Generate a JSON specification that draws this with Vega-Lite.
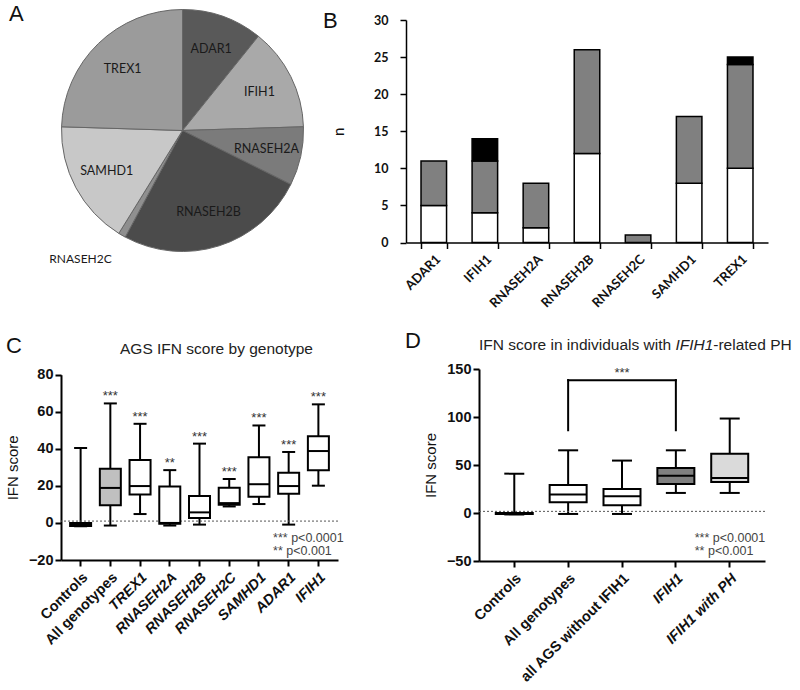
{
  "$schema": "https://vega.github.io/schema/vega-lite/v6.json",
  "background": "white",
  "padding": {"left": 5, "top": 2, "right": 5, "bottom": 5},
  "config": {
    "view": {"stroke": null},
    "axis": {"grid": false, "labelOverlap": false},
    "title": {"font": "Liberation Sans", "fontSize": 22, "fontWeight": "normal", "color": "#111", "anchor": "start", "frame": "group"}
  },
  "spacing": 19,
  "vconcat": [
    {
      "spacing": 17,
      "hconcat": [
        {
          "width": 243,
          "height": 221,
          "title": {"text": "A", "dx": -52, "dy": 22},
          "data": {"values": [
            {"gene": "ADAR1", "n": 11},
            {"gene": "IFIH1", "n": 14},
            {"gene": "RNASEH2A", "n": 8},
            {"gene": "RNASEH2B", "n": 26},
            {"gene": "RNASEH2C", "n": 1},
            {"gene": "SAMHD1", "n": 17},
            {"gene": "TREX1", "n": 25}
          ]},
          "layer": [
            {
              "mark": {"type": "arc", "radius": 121, "stroke": "#666666", "strokeWidth": 1},
              "encoding": {
                "theta": {"field": "n", "type": "quantitative", "stack": true},
                "color": {"field": "gene", "type": "nominal", "legend": null,
                  "scale": {"domain": ["ADAR1", "IFIH1", "RNASEH2A", "RNASEH2B", "RNASEH2C", "SAMHD1", "TREX1"],
                            "range": ["#595959", "#a9a9a9", "#7b7b7b", "#4b4b4b", "#8f8f8f", "#c8c8c8", "#9b9b9b"]}}
              }
            },
            {
              "mark": {"type": "text", "radius": 86, "font": "Lato", "fontSize": 12.5, "color": "#1a1a1a"},
              "encoding": {
                "theta": {"field": "n", "type": "quantitative", "stack": true},
                "text": {"condition": {"test": "datum.gene !== 'RNASEH2C'", "field": "gene", "type": "nominal"}, "value": ""}
              }
            },
            {
              "mark": {"type": "text", "radius": 86, "dx": -59, "dy": 54, "font": "Lato", "fontSize": 12, "color": "#1a1a1a"},
              "encoding": {
                "theta": {"field": "n", "type": "quantitative", "stack": true},
                "text": {"condition": {"test": "datum.gene === 'RNASEH2C'", "field": "gene", "type": "nominal"}, "value": ""}
              }
            }
          ]
        },
        {
          "width": 362,
          "height": 222.5,
          "title": {"text": "B", "dx": -83, "dy": 23},
          "data": {"values": [
            {"gene": "ADAR1", "tier": "1", "n": 5},
            {"gene": "ADAR1", "tier": "2", "n": 6},
            {"gene": "IFIH1", "tier": "1", "n": 4},
            {"gene": "IFIH1", "tier": "2", "n": 7},
            {"gene": "IFIH1", "tier": "3", "n": 3},
            {"gene": "RNASEH2A", "tier": "1", "n": 2},
            {"gene": "RNASEH2A", "tier": "2", "n": 6},
            {"gene": "RNASEH2B", "tier": "1", "n": 12},
            {"gene": "RNASEH2B", "tier": "2", "n": 14},
            {"gene": "RNASEH2C", "tier": "2", "n": 1},
            {"gene": "SAMHD1", "tier": "1", "n": 8},
            {"gene": "SAMHD1", "tier": "2", "n": 9},
            {"gene": "TREX1", "tier": "1", "n": 10},
            {"gene": "TREX1", "tier": "2", "n": 14},
            {"gene": "TREX1", "tier": "3", "n": 1}
          ]},
          "mark": {"type": "bar", "stroke": "black", "strokeWidth": 1.5},
          "encoding": {
            "x": {"field": "gene", "type": "nominal", "sort": null,
              "scale": {"paddingInner": 0.5, "paddingOuter": 0.294},
              "axis": {"title": null, "labelAngle": -45, "labelFont": "Lato", "labelFontSize": 13, "labelFontWeight": "bold", "labelColor": "#111",
                       "labelPadding": 4, "tickBand": "extent", "tickSize": 6, "tickWidth": 1.5, "tickColor": "black", "domainColor": "black", "domainWidth": 1.5}},
            "y": {"field": "n", "type": "quantitative", "stack": "zero",
              "scale": {"domain": [0, 30], "nice": false},
              "axis": {"title": "n", "values": [0, 5, 10, 15, 20, 25, 30], "tickCount": 7, "titleFont": "Lato", "titleFontSize": 15, "titleFontWeight": "normal", "titleColor": "#111", "titlePadding": 27,
                       "labelFont": "Lato", "labelFontSize": 12.5, "labelFontWeight": "bold", "labelColor": "#111", "labelPadding": 12,
                       "tickSize": 6, "tickWidth": 1.5, "tickColor": "black", "domainColor": "black", "domainWidth": 1.5}},
            "fill": {"field": "tier", "type": "nominal", "legend": null,
              "scale": {"domain": ["1", "2", "3"], "range": ["#ffffff", "#808080", "#000000"]}},
            "order": {"field": "tier", "type": "ordinal", "sort": "ascending"}
          }
        }
      ]
    },
    {
      "spacing": 61,
      "hconcat": [
        {
          "width": 277,
          "height": 191,
          "title": {"text": "C", "dx": -55, "dy": 20},
          "data": {"values": [
            {"group": "Controls", "min": -1.8, "q1": -1.6, "median": -0.8, "q3": 0, "max": 40.4, "sig": ""},
            {"group": "All genotypes", "min": -1.4, "q1": 9.6, "median": 18.9, "q3": 29.2, "max": 64.5, "sig": "***"},
            {"group": "TREX1", "min": 4.8, "q1": 15.3, "median": 19.9, "q3": 33.9, "max": 53.5, "sig": "***"},
            {"group": "RNASEH2A", "min": -1.4, "q1": -0.4, "median": 0, "q3": 19.6, "max": 28.5, "sig": "**"},
            {"group": "RNASEH2B", "min": -0.9, "q1": 2.7, "median": 5.7, "q3": 14.6, "max": 42.8, "sig": "***"},
            {"group": "RNASEH2C", "min": 8.9, "q1": 9.8, "median": 10.7, "q3": 19, "max": 23.7, "sig": "***"},
            {"group": "SAMHD1", "min": 10.2, "q1": 14.2, "median": 20.9, "q3": 35.5, "max": 52.6, "sig": "***"},
            {"group": "ADAR1", "min": -0.9, "q1": 15.7, "median": 19.9, "q3": 27.1, "max": 38.3, "sig": "***"},
            {"group": "IFIH1", "min": 20.1, "q1": 28.5, "median": 38.8, "q3": 46.8, "max": 64, "sig": "***"}
          ]},
          "layer": [
            {
              "mark": {"type": "rule", "stroke": "black", "strokeWidth": 2},
              "encoding": {
                "x": {"field": "group", "type": "nominal", "sort": null, "title": null,
                  "scale": {"domain": ["Controls", "All genotypes", "TREX1", "RNASEH2A", "RNASEH2B", "RNASEH2C", "SAMHD1", "ADAR1", "IFIH1"], "paddingInner": 0, "paddingOuter": 0.16},
                  "axis": {"labelAngle": -45, "labelFont": "Liberation Sans", "labelFontSize": 14.5, "labelFontWeight": "bold", "labelColor": "#111", "labelPadding": 4,
                           "labelFontStyle": {"condition": {"test": "datum.value !== 'Controls' && datum.value !== 'All genotypes'", "value": "italic"}, "value": "normal"},
                           "tickSize": 6, "tickWidth": 2, "tickColor": "black", "domainColor": "black", "domainWidth": 2}},
                "y": {"field": "min", "type": "quantitative", "title": "IFN score",
                  "scale": {"domain": [-20, 80], "range": [191, 5.7], "nice": false, "zero": false},
                  "axis": {"values": [-20, 0, 20, 40, 60, 80], "tickCount": 6, "labelOverlap": false, "labelFont": "Liberation Sans", "labelFontSize": 14.5, "labelFontWeight": "bold", "labelColor": "#111", "labelPadding": 2,
                           "titleFont": "Liberation Sans", "titleFontSize": 15, "titleFontWeight": "normal", "titleColor": "#111", "titlePadding": 8,
                           "tickSize": 6, "tickWidth": 2, "tickColor": "black", "domainColor": "black", "domainWidth": 2}},
                "y2": {"field": "max"}
              }
            },
            {
              "data": {"values": [{}]},
              "mark": {"type": "rule", "stroke": "#555555", "strokeWidth": 1, "strokeDash": [2, 2]},
              "encoding": {"y": {"datum": 1, "type": "quantitative", "title": "IFN score"}}
            },
            {
              "mark": {"type": "bar", "width": 21, "stroke": "black", "strokeWidth": 2},
              "encoding": {
                "x": {"field": "group", "type": "nominal", "sort": null, "title": null},
                "y": {"field": "q1", "type": "quantitative", "title": "IFN score"},
                "y2": {"field": "q3"},
                "fill": {"condition": {"test": "datum.group === 'All genotypes'", "value": "#c0c0c0"}, "value": "#ffffff"}
              }
            },
            {
              "mark": {"type": "tick", "size": 21, "thickness": 2, "color": "black", "opacity": 1},
              "encoding": {
                "x": {"field": "group", "type": "nominal", "sort": null, "title": null},
                "y": {"field": "median", "type": "quantitative", "title": "IFN score"}
              }
            },
            {
              "mark": {"type": "tick", "size": 13, "thickness": 2, "color": "black", "opacity": 1},
              "encoding": {
                "x": {"field": "group", "type": "nominal", "sort": null, "title": null},
                "y": {"field": "min", "type": "quantitative", "title": "IFN score"}
              }
            },
            {
              "mark": {"type": "tick", "size": 13, "thickness": 2, "color": "black", "opacity": 1},
              "encoding": {
                "x": {"field": "group", "type": "nominal", "sort": null, "title": null},
                "y": {"field": "max", "type": "quantitative", "title": "IFN score"}
              }
            },
            {
              "mark": {"type": "text", "font": "Liberation Sans", "fontSize": 13, "color": "#333", "baseline": "alphabetic", "dy": -3},
              "encoding": {
                "x": {"field": "group", "type": "nominal", "sort": null, "title": null},
                "y": {"field": "max", "type": "quantitative", "title": "IFN score"},
                "text": {"field": "sig"}
              }
            },
            {
              "data": {"values": [{}]},
              "mark": {"type": "text", "font": "Liberation Sans", "fontSize": 15.5, "color": "#222", "baseline": "alphabetic", "align": "center", "dx": 17},
              "encoding": {
                "x": {"datum": "RNASEH2B", "type": "nominal", "bandPosition": 0.5},
                "y": {"datum": 91, "type": "quantitative"},
                "text": {"value": "AGS IFN score by genotype"}
              }
            },
            {
              "data": {"values": [{}]},
              "mark": {"type": "text", "font": "Liberation Sans", "fontSize": 12.5, "color": "#444", "baseline": "alphabetic", "align": "left", "dx": -15.6, "lineHeight": 13},
              "encoding": {
                "x": {"datum": "ADAR1", "type": "nominal", "bandPosition": 0.5},
                "y": {"datum": -10.1, "type": "quantitative"},
                "text": {"value": ["*** p<0.0001", "**   p<0.001"]}
              }
            }
          ]
        },
        {
          "width": 286,
          "height": 192,
          "title": {"text": "D", "dx": -74, "dy": 19},
          "data": {"values": [
            {"group": "Controls", "min": -1.5, "q1": -1, "median": -0.5, "q3": 0, "max": 41},
            {"group": "All genotypes", "min": -1, "q1": 11.1, "median": 19.4, "q3": 29.2, "max": 65.3},
            {"group": "all AGS without IFIH1", "min": -1, "q1": 8, "median": 17.4, "q3": 25, "max": 54.6},
            {"group": "IFIH1", "min": 20.9, "q1": 30.3, "median": 38.9, "q3": 47, "max": 65.3},
            {"group": "IFIH1 with PH", "min": 20.9, "q1": 32.3, "median": 36.5, "q3": 61.6, "max": 98.4}
          ]},
          "layer": [
            {
              "mark": {"type": "rule", "stroke": "black", "strokeWidth": 2},
              "encoding": {
                "x": {"field": "group", "type": "nominal", "sort": null, "title": null,
                  "scale": {"domain": ["Controls", "All genotypes", "all AGS without IFIH1", "IFIH1", "IFIH1 with PH"], "paddingInner": 0, "paddingOuter": 0.155},
                  "axis": {"labelAngle": -45, "labelFont": "Liberation Sans", "labelFontSize": 14.5, "labelFontWeight": "bold", "labelColor": "#111", "labelPadding": 4,
                           "labelFontStyle": {"condition": {"test": "datum.value === 'IFIH1' || datum.value === 'IFIH1 with PH'", "value": "italic"}, "value": "normal"},
                           "tickSize": 6, "tickWidth": 2, "tickColor": "black", "domainColor": "black", "domainWidth": 2}},
                "y": {"field": "min", "type": "quantitative", "title": "IFN score",
                  "scale": {"domain": [-50, 150], "nice": false, "zero": false},
                  "axis": {"values": [-50, 0, 50, 100, 150], "tickCount": 5, "labelOverlap": false, "labelFont": "Liberation Sans", "labelFontSize": 14.5, "labelFontWeight": "bold", "labelColor": "#111", "labelPadding": 2,
                           "titleFont": "Liberation Sans", "titleFontSize": 15, "titleFontWeight": "normal", "titleColor": "#111", "titlePadding": 8,
                           "tickSize": 6, "tickWidth": 2, "tickColor": "black", "domainColor": "black", "domainWidth": 2}},
                "y2": {"field": "max"}
              }
            },
            {
              "data": {"values": [{}]},
              "mark": {"type": "rule", "stroke": "#555555", "strokeWidth": 1, "strokeDash": [2, 2]},
              "encoding": {"y": {"datum": 1.7, "type": "quantitative", "title": "IFN score"}}
            },
            {
              "mark": {"type": "bar", "width": 37, "stroke": "black", "strokeWidth": 2},
              "encoding": {
                "x": {"field": "group", "type": "nominal", "sort": null, "title": null},
                "y": {"field": "q1", "type": "quantitative", "title": "IFN score"},
                "y2": {"field": "q3"},
                "fill": {"condition": [
                  {"test": "datum.group === 'IFIH1'", "value": "#808080"},
                  {"test": "datum.group === 'IFIH1 with PH'", "value": "#dadada"}
                ], "value": "#ffffff"}
              }
            },
            {
              "mark": {"type": "tick", "size": 37, "thickness": 2, "color": "black", "opacity": 1},
              "encoding": {
                "x": {"field": "group", "type": "nominal", "sort": null, "title": null},
                "y": {"field": "median", "type": "quantitative", "title": "IFN score"}
              }
            },
            {
              "mark": {"type": "tick", "size": 20, "thickness": 2, "color": "black", "opacity": 1},
              "encoding": {
                "x": {"field": "group", "type": "nominal", "sort": null, "title": null},
                "y": {"field": "min", "type": "quantitative", "title": "IFN score"}
              }
            },
            {
              "mark": {"type": "tick", "size": 20, "thickness": 2, "color": "black", "opacity": 1},
              "encoding": {
                "x": {"field": "group", "type": "nominal", "sort": null, "title": null},
                "y": {"field": "max", "type": "quantitative", "title": "IFN score"}
              }
            },
            {
              "data": {"values": [{}]},
              "mark": {"type": "rule", "stroke": "black", "strokeWidth": 2, "strokeCap": "square"},
              "encoding": {
                "x": {"datum": "All genotypes", "type": "nominal", "bandPosition": 0.5},
                "x2": {"datum": "IFIH1", "bandPosition": 0.5},
                "y": {"datum": 138.4, "type": "quantitative"}
              }
            },
            {
              "data": {"values": [{}]},
              "mark": {"type": "rule", "stroke": "black", "strokeWidth": 2, "strokeCap": "square"},
              "encoding": {
                "x": {"datum": "All genotypes", "type": "nominal", "bandPosition": 0.5},
                "y": {"datum": 86.2, "type": "quantitative"},
                "y2": {"datum": 138.4}
              }
            },
            {
              "data": {"values": [{}]},
              "mark": {"type": "rule", "stroke": "black", "strokeWidth": 2, "strokeCap": "square"},
              "encoding": {
                "x": {"datum": "IFIH1", "type": "nominal", "bandPosition": 0.5},
                "y": {"datum": 86.2, "type": "quantitative"},
                "y2": {"datum": 138.4}
              }
            },
            {
              "data": {"values": [{}]},
              "mark": {"type": "text", "font": "Liberation Sans", "fontSize": 13, "color": "#333", "baseline": "alphabetic", "align": "center"},
              "encoding": {
                "x": {"datum": "all AGS without IFIH1", "type": "nominal", "bandPosition": 0.5},
                "y": {"datum": 142, "type": "quantitative"},
                "text": {"value": "***"}
              }
            },
            {
              "data": {"values": [{}]},
              "mark": {"type": "text", "font": "Liberation Sans", "fontSize": 15.5, "color": "#222", "baseline": "alphabetic", "align": "left", "dx": -143},
              "encoding": {
                "x": {"datum": "all AGS without IFIH1", "type": "nominal", "bandPosition": 0.5},
                "y": {"datum": 169.7, "type": "quantitative"},
                "text": {"value": "IFN score in individuals with "}
              }
            },
            {
              "data": {"values": [{}]},
              "mark": {"type": "text", "font": "Liberation Sans", "fontSize": 15.5, "fontStyle": "italic", "color": "#222", "baseline": "alphabetic", "align": "left", "dx": 53.4},
              "encoding": {
                "x": {"datum": "all AGS without IFIH1", "type": "nominal", "bandPosition": 0.5},
                "y": {"datum": 169.7, "type": "quantitative"},
                "text": {"value": "IFIH1"}
              }
            },
            {
              "data": {"values": [{}]},
              "mark": {"type": "text", "font": "Liberation Sans", "fontSize": 15.5, "color": "#222", "baseline": "alphabetic", "align": "left", "dx": 91.3},
              "encoding": {
                "x": {"datum": "all AGS without IFIH1", "type": "nominal", "bandPosition": 0.5},
                "y": {"datum": 169.7, "type": "quantitative"},
                "text": {"value": "-related PH"}
              }
            },
            {
              "data": {"values": [{}]},
              "mark": {"type": "text", "font": "Liberation Sans", "fontSize": 12.5, "color": "#444", "baseline": "alphabetic", "align": "left", "dx": -35, "lineHeight": 13},
              "encoding": {
                "x": {"datum": "IFIH1 with PH", "type": "nominal", "bandPosition": 0.5},
                "y": {"datum": -30.3, "type": "quantitative"},
                "text": {"value": ["*** p<0.0001", "**   p<0.001"]}
              }
            }
          ]
        }
      ]
    }
  ]
}
